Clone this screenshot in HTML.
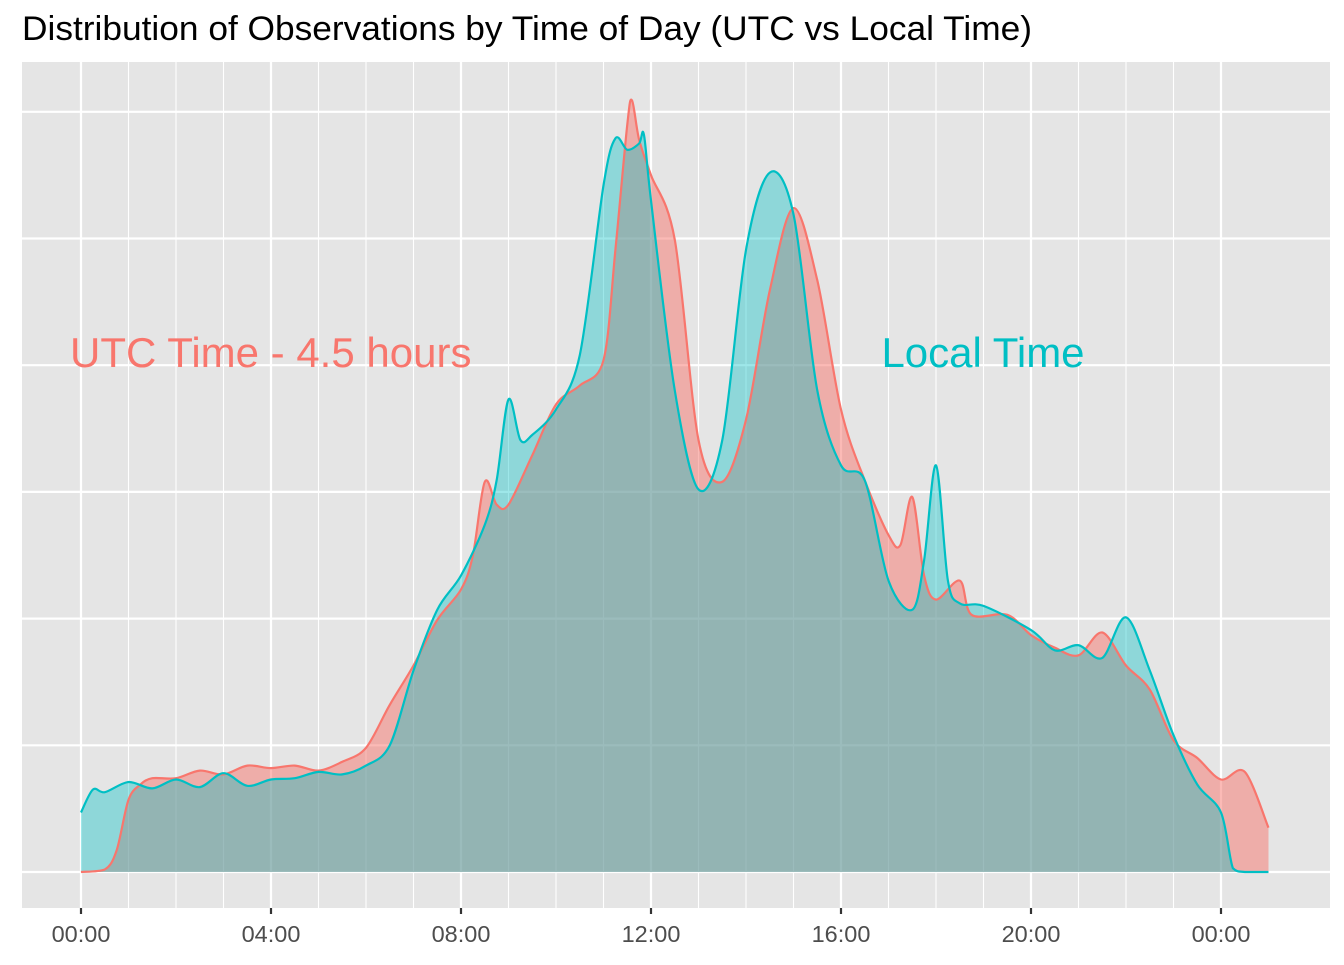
<!DOCTYPE html>
<html><head><meta charset="utf-8"><style>
body{margin:0;background:#fff;width:1344px;height:960px;overflow:hidden}
svg text{font-family:"Liberation Sans",Arial,sans-serif}
</style></head><body>
<svg id="chart" width="1344" height="960">
<text x="22" y="40" font-size="34" fill="#000" textLength="1010" lengthAdjust="spacingAndGlyphs">Distribution of Observations by Time of Day (UTC vs Local Time)</text>
<rect x="22" y="62" width="1308" height="846" fill="#E5E5E5"/>
<g id="grid"></g>
<g id="areas"></g>
<g id="xaxis"></g>
<text x="70" y="367" font-size="42" fill="#F8766D">UTC Time - 4.5 hours</text>
<text x="983" y="367" font-size="42" fill="#00BFC4" text-anchor="middle">Local Time</text>
</svg>
<script>
const utcHours=[0,0.5,0.75,1,1.25,1.5,2,2.5,3,3.5,4,4.5,5,5.5,6,6.5,7,7.5,8,8.25,8.5,8.75,9,9.5,10,10.5,11,11.25,11.5,11.6,11.75,12,12.5,13,13.5,14,14.5,15,15.5,16,16.5,17,17.25,17.5,17.75,18,18.5,18.75,19.5,20,20.5,21,21.5,22,22.5,23,23.5,24,24.5,25];
const utcValues=[0,0.2,1.7,5.7,6.9,7.4,7.4,8.0,7.7,8.4,8.2,8.4,8.0,8.7,9.8,13.2,16.3,19.9,22.3,25.0,30.8,29.0,29.0,32.9,36.9,38.4,40.4,49.1,59.0,60.9,57.8,55.0,49.9,34.1,30.8,35.7,45.9,52.4,46.7,36.5,30.9,26.6,25.8,29.6,23.4,21.5,23.0,20.3,20.3,18.7,17.7,17.1,18.9,16.3,14.4,10.4,9.0,7.3,7.9,3.5];
const localHours=[0,0.25,0.5,1,1.5,2,2.5,3,3.5,4,4.5,5,5.5,6,6.5,7,7.5,8,8.5,8.75,9,9.25,9.5,10,10.5,11,11.25,11.5,11.75,11.85,12,12.5,13,13.5,14,14.5,15,15.5,16,16.5,17,17.5,17.75,18,18.25,18.5,19,20,20.5,21,21.5,22,22.5,23,23.5,24,24.25,24.5,25];
const localValues=[4.7,6.5,6.3,7.1,6.6,7.3,6.7,7.8,6.8,7.3,7.4,7.9,7.7,8.4,10.0,15.9,20.7,23.4,27.4,30.9,37.3,34.1,34.5,36.5,40.8,54.2,57.9,57.0,57.5,58.2,53.0,38.0,30.2,34.1,49.1,55.2,51.9,38.0,32.1,30.9,23.0,20.7,24.6,32.1,23.0,21.2,21.0,19.1,17.5,17.9,16.9,20.1,15.9,10.8,6.9,4.7,0.3,0,0];
const xTickHours=[0,4,8,12,16,20,24];
const xTickLabels=["00:00","04:00","08:00","12:00","16:00","20:00","00:00"];
const yGrid=[0,10,20,30,40,50,60];
const NS="http://www.w3.org/2000/svg";
const X=h=>81+h*47.5;
const Y=v=>872-v*12.67;
function el(t,a,p){const e=document.createElementNS(NS,t);for(const k in a)e.setAttribute(k,a[k]);p.appendChild(e);return e;}
const grid=document.getElementById('grid');
for(let h=0;h<=24;h++){const x=X(h);
 const l=el('line',{x1:x,x2:x,y1:62,y2:908,stroke:'#fff','stroke-width':h%4===0?2.2:1.1},grid);
 
 }
yGrid.forEach(v=>{const l=el('line',{x1:22,x2:1330,y1:Y(v),y2:Y(v),stroke:'#fff','stroke-width':2.2},grid);
 
 });
function pathD(hs,vs,close){const p=hs.map((h,i)=>[X(h),Y(vs[i])]);let d='M'+p[0][0]+','+p[0][1];
 const base=Y(0);
 for(let i=0;i<p.length-1;i++){const p0=p[i-1]||p[i],p1=p[i],p2=p[i+1],p3=p[i+2]||p2;
  const t=0.16;const c1=[p1[0]+(p2[0]-p0[0])*t,Math.min(base,p1[1]+(p2[1]-p0[1])*t)];const c2=[p2[0]-(p3[0]-p1[0])*t,Math.min(base,p2[1]-(p3[1]-p1[1])*t)];
  d+=`C${c1[0].toFixed(1)},${c1[1].toFixed(1)} ${c2[0].toFixed(1)},${c2[1].toFixed(1)} ${p2[0].toFixed(1)},${p2[1].toFixed(1)}`;}
 if(close)d+=`L${p[p.length-1][0]},${base}L${p[0][0]},${base}Z`;return d;}
const areas=document.getElementById('areas');
const a1=el('path',{d:pathD(utcHours,utcValues,true),fill:'#F8766D','fill-opacity':0.5},areas);


const a2=el('path',{d:pathD(localHours,localValues,true),fill:'#00BFC4','fill-opacity':0.38},areas);


const l1=el('path',{d:pathD(utcHours,utcValues,false),fill:'none',stroke:'#F8766D','stroke-width':2.2},areas);


const l2=el('path',{d:pathD(localHours,localValues,false),fill:'none',stroke:'#00BFC4','stroke-width':2.2},areas);


const xa=document.getElementById('xaxis');
xTickHours.forEach((h,i)=>{const t=el('line',{x1:X(h),x2:X(h),y1:908,y2:914,stroke:'#333','stroke-width':2.2},xa);
 
 
 const tx=el('text',{x:X(h),y:942,'text-anchor':'middle','font-size':23.5,fill:'#4D4D4D'},xa);tx.textContent=xTickLabels[i];
 
 });
</script>
</body></html>
